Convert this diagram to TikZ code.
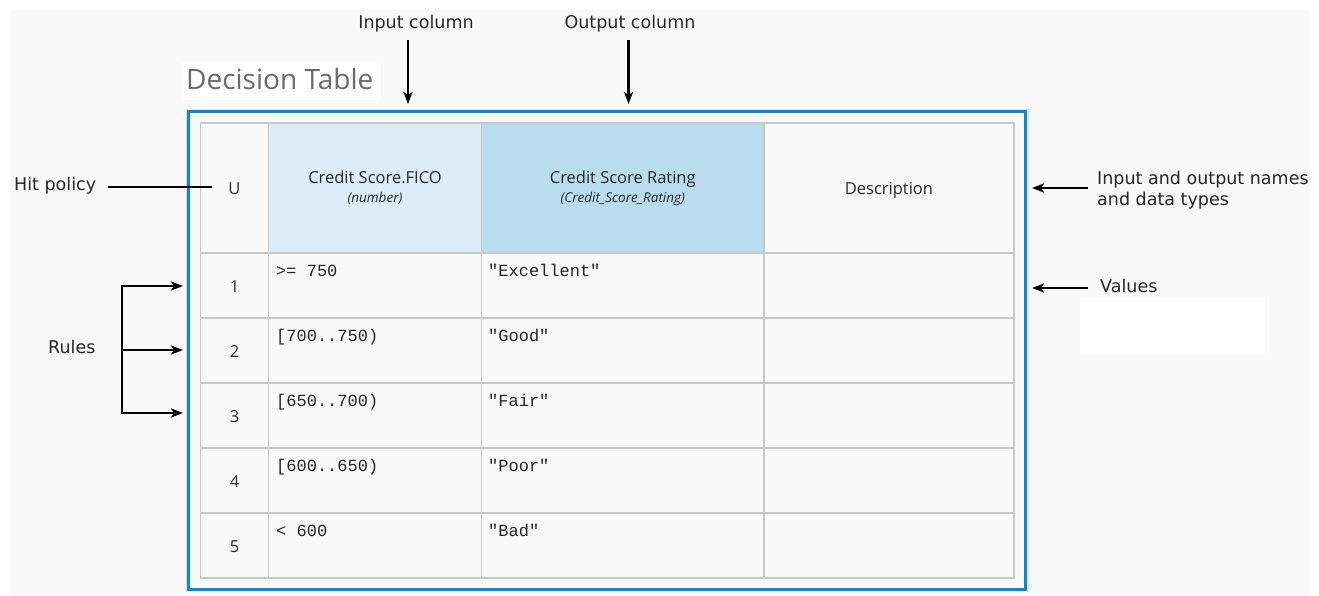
\documentclass[tikz,border=0pt]{standalone}
\usepackage{fontspec}
\setmainfont{Open Sans}
\newfontfamily\annotfont{DejaVu Sans}
\newfontfamily\monofont{Liberation Mono}
\usetikzlibrary{arrows.meta}
\definecolor{bgpanel}{HTML}{F9F9F9}
\definecolor{dmnblue}{HTML}{0B88CF}
\definecolor{inhead}{HTML}{DCEDF9}
\definecolor{outhead}{HTML}{BADCEF}
\definecolor{gridgray}{HTML}{C8C8C8}
\definecolor{inktext}{HTML}{262626}
\begin{document}
\begin{tikzpicture}[x=1pt,y=-1pt,
  lbl/.style={font=\annotfont\fontsize{17.5}{20}\selectfont, text=inktext, inner sep=0pt},
  cell/.style={font=\fontsize{16.5}{20}\selectfont, text=inktext, inner sep=0pt},
  mcell/.style={font=\monofont\fontsize{17}{20}\selectfont, text=inktext, inner sep=0pt, anchor=base west},
  subtype/.style={font=\itshape\fontsize{13.5}{16}\selectfont, text=inktext, inner sep=0pt, anchor=base},
  arr/.style={draw=black, line width=2.2pt, -{Stealth[length=12pt,width=9pt,inset=3pt]}},
  plainline/.style={draw=black, line width=2.2pt},
  gridline/.style={draw=gridgray, line width=1.5pt}
]
\useasboundingbox (0,0) rectangle (1319,596);
\fill[white] (0,0) rectangle (1319,596);
\fill[bgpanel] (10,10) rectangle (1310,596);
\fill[white] (1080,297) rectangle (1265,353);

% title
\fill[white] (182,63) rectangle (381,100);
\node[font=\fontsize{28}{32}\selectfont, text=black!58, inner sep=0pt, anchor=base west] (title) at (186,90) {Decision Table};

% header fills
\fill[inhead] (268.5,123) rectangle (481.5,253);
\fill[outhead] (481.5,123) rectangle (764,253);

% grid
\draw[gridline] (200.5,123) rectangle (1014,578);
\foreach \x in {268.5,481.5,764} \draw[gridline] (\x,123) -- (\x,578);
\foreach \y in {253,318,383,448,513} \draw[gridline] (200.5,\y) -- (1014,\y);

% blue frame
\draw[black!12, line width=1pt] (186,109.5) rectangle (1028,591.5);
\draw[dmnblue, line width=3pt] (188,111.5) rectangle (1025.8,589.5);

% header texts
\node[cell, anchor=base] (hitu) at (234.5,195) {U};
\node[cell, anchor=base] (inname) at (375,184) {Credit Score.FICO};
\node[subtype] (intype) at (375,203) {(number)};
\node[cell, anchor=base] (outname) at (622.75,184) {Credit Score Rating};
\node[subtype] (outtype) at (622.75,203) {(Credit\_Score\_Rating)};
\node[cell, anchor=base] (descname) at (889,194) {Description};

% rows
\foreach \i/\t/\a/\b in {1/253/{>= 750}/{"Excellent"},
                          2/318/{[700..750)}/{"Good"},
                          3/383/{[650..700)}/{"Fair"},
                          4/448/{[600..650)}/{"Poor"},
                          5/513/{< 600}/{"Bad"}}{
  \node[cell, anchor=base] (num\i) at (234.5,\t+39) {\i};
  \node[mcell] (in\i) at (276,\t+23) {\a};
  \node[mcell] (out\i) at (488,\t+23) {\b};
}

% annotations
\node[lbl, anchor=base] (incol) at (416,29) {Input column};
\node[lbl, anchor=base] (outcol) at (630,29) {Output column};
\node[lbl, anchor=base west] (hit) at (14,190) {Hit policy};
\node[lbl, anchor=base west] (rules) at (48,353) {Rules};
\node[lbl, anchor=base west] (names1) at (1097,185) {Input and output names};
\node[lbl, anchor=base west] (names2) at (1097,205) {and data types};
\node[lbl, anchor=base west] (values) at (1100,292) {Values};

% connector coordinates
\coordinate (inA) at (408,40);
\coordinate (inB) at (408,104);
\coordinate (outA) at (628.5,40);
\coordinate (outB) at (628.5,104);
\coordinate (hitA) at (108,187);
\coordinate (hitB) at (212,187);
\coordinate (rtop) at (122,286);
\coordinate (rmid) at (122,350);
\coordinate (rbot) at (122,413);
\coordinate (r1) at (183,286);
\coordinate (r2) at (183,350);
\coordinate (r3) at (183,413);
\coordinate (nmA) at (1088,188);
\coordinate (nmB) at (1032,188);
\coordinate (vlA) at (1088,288);
\coordinate (vlB) at (1032,288);

\draw[arr] (inA) -- (inB);
\draw[arr] (outA) -- (outB);
\draw[plainline] (hitA) -- (hitB);
\draw[plainline, line cap=rect] (rtop) -- (rbot);
\draw[arr] (rtop) -- (r1);
\draw[arr] (rmid) -- (r2);
\draw[arr] (rbot) -- (r3);
\draw[arr] (nmA) -- (nmB);
\draw[arr] (vlA) -- (vlB);
\end{tikzpicture}
\end{document}
